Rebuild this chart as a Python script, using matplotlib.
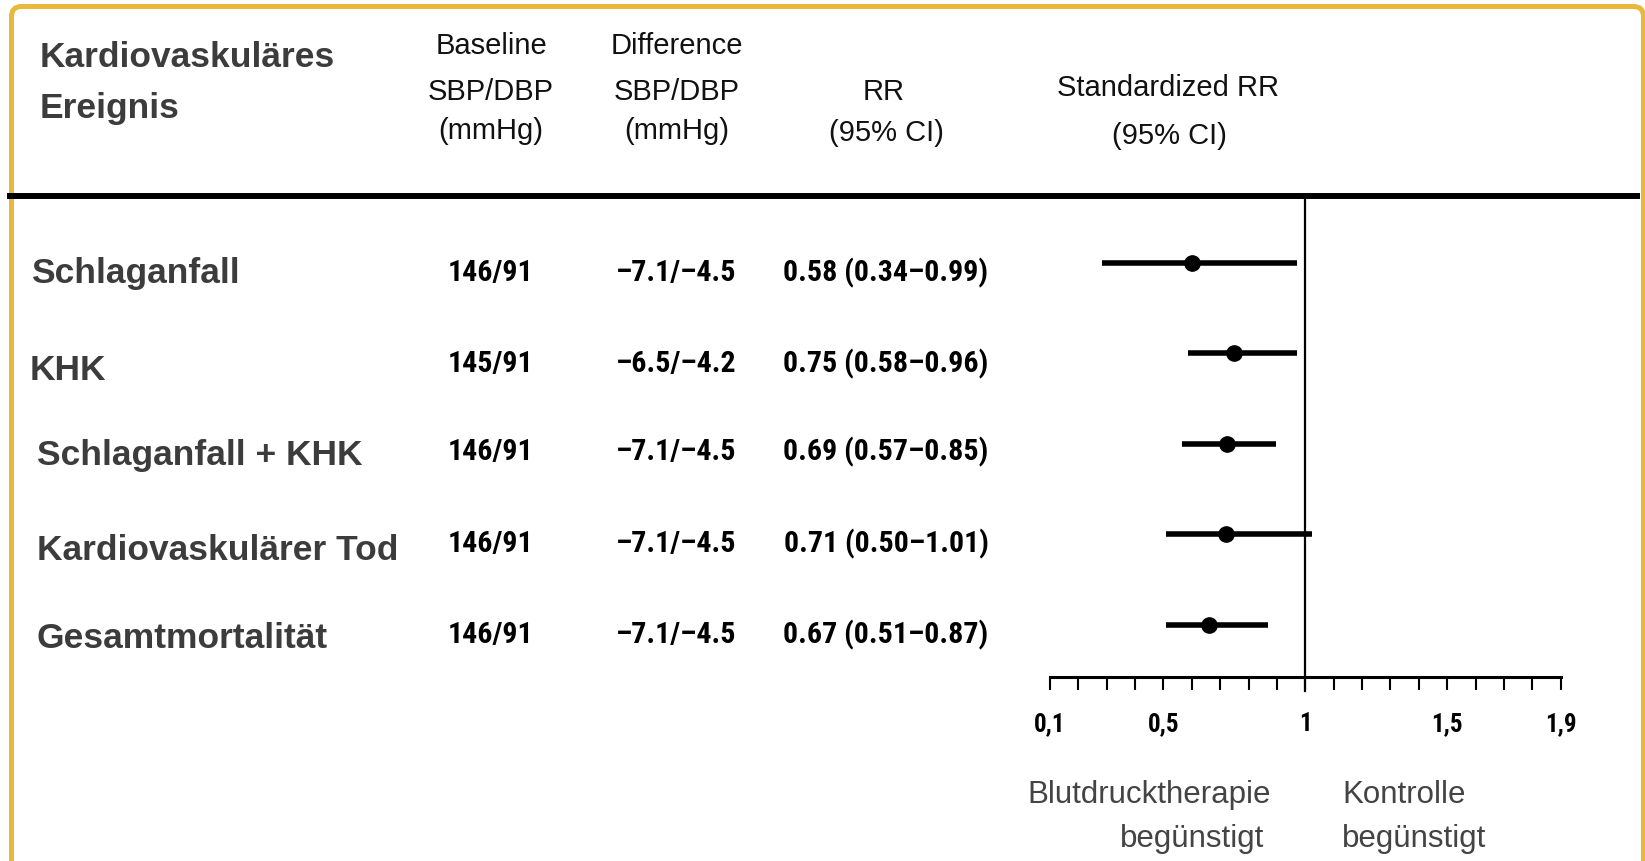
import matplotlib
matplotlib.use("Agg")
import matplotlib.pyplot as plt
import matplotlib.transforms as mtransforms
from matplotlib import font_manager
from matplotlib.patches import FancyBboxPatch
from matplotlib.lines import Line2D
from matplotlib.ticker import FixedLocator
import numpy as np

# Rows of the forest plot
events = ["Schlaganfall", "KHK", "Schlaganfall + KHK",
          "Kardiovaskulärer Tod", "Gesamtmortalität"]
baseline_bp = ["146/91", "145/91", "146/91", "146/91", "146/91"]
difference_bp = ["–7.1/–4.5", "–6.5/–4.2", "–7.1/–4.5", "–7.1/–4.5", "–7.1/–4.5"]
rr_text = ["0.58 (0.34–0.99)", "0.75 (0.58–0.96)", "0.69 (0.57–0.85)",
           "0.71 (0.50–1.01)", "0.67 (0.51–0.87)"]

# Standardized RR
std_rr = [0.60, 0.75, 0.725, 0.72, 0.66]
std_lo = [0.285, 0.585, 0.565, 0.51, 0.51]
std_hi = [0.97, 0.97, 0.895, 1.025, 0.87]

tick_vals = [0.1, 0.5, 1, 1.5, 1.9]
tick_labels = ["0,1", "0,5", "1", "1,5", "1,9"]

W, H = 1645, 862
SANS = ["Liberation Sans", "DejaVu Sans"]


def fx(x):
    return x / W


def fy(y):
    return 1 - y / H


# look for a condensed face for the numbers, else shrink the regular one
narrow_fam = None
for fam in ["Liberation Sans Narrow", "Roboto Condensed", "DejaVu Sans Condensed"]:
    try:
        font_manager.findfont(font_manager.FontProperties(family=fam),
                              fallback_to_default=False)
        narrow_fam = fam
        break
    except ValueError:
        pass
if narrow_fam:
    NUM_FONT = dict(family=[narrow_fam, "Liberation Sans"], size=21.5)
    TICK_FONT = dict(family=[narrow_fam, "Liberation Sans"], size=18)
else:
    NUM_FONT = dict(family=SANS, size=19)
    TICK_FONT = dict(family=SANS, size=16)

fig = plt.figure(figsize=(W / 100, H / 100), dpi=100)

# golden frame
frame = FancyBboxPatch((11.5, -30), 1632, 884.5,
                       boxstyle="round,pad=0,rounding_size=10",
                       transform=mtransforms.IdentityTransform(),
                       fill=False, edgecolor="#E8B93C", linewidth=3.6)
fig.add_artist(frame)

# thick rule under the header
fig.add_artist(Line2D([fx(10), fx(1637)], [fy(197), fy(197)],
                      transform=fig.transFigure, color="black", lw=4.3))

# header
fig.text(fx(40), fy(67), "Kardiovaskuläres", family=SANS, weight="bold",
         size=25.5, color="#3c3c3c", va="baseline")
fig.text(fx(40), fy(118), "Ereignis", family=SANS, weight="bold",
         size=25.5, color="#3c3c3c", va="baseline")

hdr = dict(family=SANS, size=21, color="#111111", ha="center", va="baseline")
fig.text(fx(491), fy(54), "Baseline", **hdr)
fig.text(fx(491), fy(100), "SBP/DBP", **hdr)
fig.text(fx(491), fy(139), "(mmHg)", **hdr)
fig.text(fx(677), fy(54), "Difference", **hdr)
fig.text(fx(677), fy(100), "SBP/DBP", **hdr)
fig.text(fx(677), fy(139), "(mmHg)", **hdr)
fig.text(fx(884), fy(100), "RR", **hdr)
fig.text(fx(886), fy(141), "(95% CI)", **hdr)
fig.text(fx(1168), fy(96), "Standardized RR", **hdr)
fig.text(fx(1169), fy(144), "(95% CI)", **hdr)

# row texts
label_x = [31, 30, 37, 37, 37]
label_y = [283, 380, 465, 560, 648]
num_y = [281, 372, 460, 552, 643]
num = dict(weight="bold", color="black", ha="center", va="baseline", **NUM_FONT)
for i, ev in enumerate(events):
    fig.text(fx(label_x[i]), fy(label_y[i]), ev, family=SANS, weight="bold",
             size=25.5, color="#3c3c3c", va="baseline")
    fig.text(fx(491), fy(num_y[i]), baseline_bp[i], **num)
    fig.text(fx(676), fy(num_y[i]), difference_bp[i], **num)
    fig.text(fx(886), fy(num_y[i]), rr_text[i], **num)

# forest plot
ax = fig.add_axes([fx(1050), fy(678), (1560.6 - 1050) / W, (678 - 197) / H])
rows = np.arange(len(events))
ax.set_xlim(0.1, 1.9)
ax.set_ylim(4.575, -0.740)
ax.hlines(rows, std_lo, std_hi, color="black", lw=4)
ax.plot(std_rr, rows, "o", color="black", ms=11)
ax.axvline(1, ymin=-0.03, ymax=1, clip_on=False, color="black", lw=1.6)

ax.set_xticks(tick_vals)
ax.set_xticklabels(tick_labels, weight="bold", **TICK_FONT)
ax.xaxis.set_minor_locator(FixedLocator(np.arange(1, 20) / 10))
ax.tick_params(axis="x", which="both", direction="out", length=9.5,
               width=1.5, pad=15, colors="black")
ax.tick_params(axis="y", left=False, labelleft=False)
for side in ["top", "left", "right"]:
    ax.spines[side].set_visible(False)
ax.spines["bottom"].set_linewidth(2.2)
ax.patch.set_alpha(0)

# favour labels
fav = dict(family=SANS, size=22.5, color="#444444", va="baseline")
fig.text(fx(1027), fy(803), "Blutdrucktherapie", **fav)
fig.text(fx(1264), fy(847), "begünstigt", ha="right", **fav)
fig.text(fx(1342), fy(803), "Kontrolle", **fav)
fig.text(fx(1342), fy(847), "begünstigt", **fav)

fig.savefig("out.png", dpi=100)
